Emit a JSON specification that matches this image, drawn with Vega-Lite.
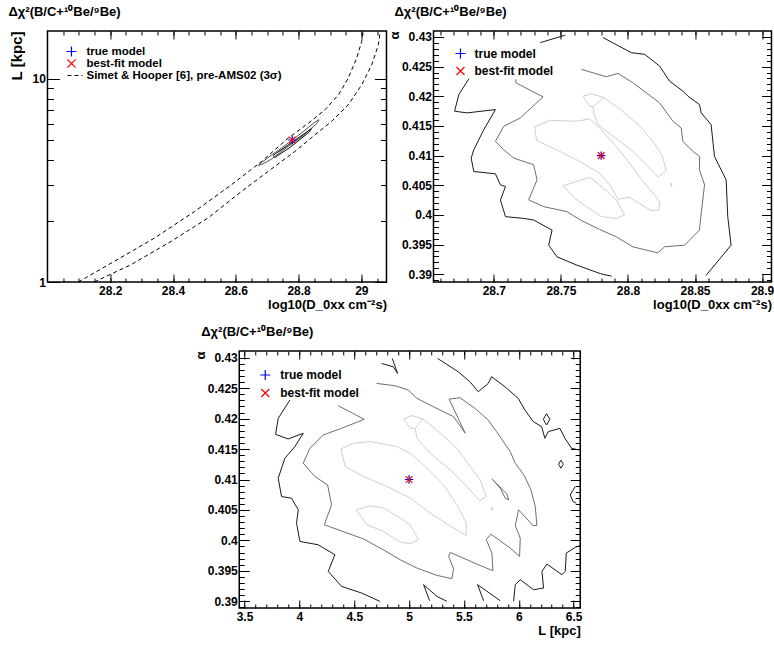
{
  "$schema": "https://vega.github.io/schema/vega-lite/v6.json",
  "background": "white",
  "padding": {"left": 7, "top": 4, "right": 0, "bottom": 0},
  "datasets": {
    "p1c": [
      {"k":"O","l":"g","i":0,"x":28.671,"y":3.75},{"k":"O","l":"g","i":1,"x":28.703,"y":4.10},{"k":"O","l":"g","i":2,"x":28.745,"y":4.56},{"k":"O","l":"g","i":3,"x":28.809,"y":5.41},{"k":"O","l":"g","i":4,"x":28.852,"y":6.12},{"k":"O","l":"g","i":5,"x":28.865,"y":6.29},{"k":"O","l":"g","i":6,"x":28.858,"y":6.03},{"k":"O","l":"g","i":7,"x":28.82,"y":5.35},{"k":"O","l":"g","i":8,"x":28.767,"y":4.65},{"k":"O","l":"g","i":9,"x":28.714,"y":4.03},{"k":"O","l":"g","i":10,"x":28.682,"y":3.78},{"k":"O","l":"g","i":11,"x":28.671,"y":3.75},
      {"k":"I","l":"b","i":0,"x":28.719,"y":4.20},{"k":"I","l":"b","i":1,"x":28.767,"y":4.73},{"k":"I","l":"b","i":2,"x":28.831,"y":5.55},{"k":"I","l":"b","i":3,"x":28.841,"y":5.68},{"k":"I","l":"b","i":4,"x":28.834,"y":5.47},{"k":"I","l":"b","i":5,"x":28.772,"y":4.59},{"k":"I","l":"b","i":6,"x":28.724,"y":4.10},{"k":"I","l":"b","i":7,"x":28.719,"y":4.20},
      {"k":"W","l":"w","i":0,"x":28.735,"y":4.35},{"k":"W","l":"w","i":1,"x":28.80,"y":5.05},{"k":"W","l":"w","i":2,"x":28.822,"y":5.32},{"k":"W","l":"w","i":3,"x":28.80,"y":5.0},{"k":"W","l":"w","i":4,"x":28.74,"y":4.4},{"k":"W","l":"w","i":5,"x":28.735,"y":4.35}
    ],
    "p1s": [
      {"k":"S1","s":"Simet & Hooper [6], pre-AMS02 (3σ)","i":0,"x":28.098,"y":1.0},{"k":"S1","s":"Simet & Hooper [6], pre-AMS02 (3σ)","i":1,"x":28.213,"y":1.264},{"k":"S1","s":"Simet & Hooper [6], pre-AMS02 (3σ)","i":2,"x":28.341,"y":1.646},{"k":"S1","s":"Simet & Hooper [6], pre-AMS02 (3σ)","i":3,"x":28.469,"y":2.226},{"k":"S1","s":"Simet & Hooper [6], pre-AMS02 (3σ)","i":4,"x":28.586,"y":3.01},{"k":"S1","s":"Simet & Hooper [6], pre-AMS02 (3σ)","i":5,"x":28.682,"y":3.92},{"k":"S1","s":"Simet & Hooper [6], pre-AMS02 (3σ)","i":6,"x":28.767,"y":5.11},{"k":"S1","s":"Simet & Hooper [6], pre-AMS02 (3σ)","i":7,"x":28.831,"y":6.05},{"k":"S1","s":"Simet & Hooper [6], pre-AMS02 (3σ)","i":8,"x":28.884,"y":7.04},{"k":"S1","s":"Simet & Hooper [6], pre-AMS02 (3σ)","i":9,"x":28.927,"y":8.34},{"k":"S1","s":"Simet & Hooper [6], pre-AMS02 (3σ)","i":10,"x":28.958,"y":10.07},{"k":"S1","s":"Simet & Hooper [6], pre-AMS02 (3σ)","i":11,"x":28.985,"y":12.64},{"k":"S1","s":"Simet & Hooper [6], pre-AMS02 (3σ)","i":12,"x":29.001,"y":15.26},{"k":"S1","s":"Simet & Hooper [6], pre-AMS02 (3σ)","i":13,"x":29.006,"y":17.09},
      {"k":"S2","s":"Simet & Hooper [6], pre-AMS02 (3σ)","i":0,"x":28.149,"y":1.0},{"k":"S2","s":"Simet & Hooper [6], pre-AMS02 (3σ)","i":1,"x":28.266,"y":1.217},{"k":"S2","s":"Simet & Hooper [6], pre-AMS02 (3σ)","i":2,"x":28.394,"y":1.585},{"k":"S2","s":"Simet & Hooper [6], pre-AMS02 (3σ)","i":3,"x":28.511,"y":2.064},{"k":"S2","s":"Simet & Hooper [6], pre-AMS02 (3σ)","i":4,"x":28.618,"y":2.792},{"k":"S2","s":"Simet & Hooper [6], pre-AMS02 (3σ)","i":5,"x":28.703,"y":3.502},{"k":"S2","s":"Simet & Hooper [6], pre-AMS02 (3σ)","i":6,"x":28.788,"y":4.39},{"k":"S2","s":"Simet & Hooper [6], pre-AMS02 (3σ)","i":7,"x":28.852,"y":5.30},{"k":"S2","s":"Simet & Hooper [6], pre-AMS02 (3σ)","i":8,"x":28.905,"y":6.17},{"k":"S2","s":"Simet & Hooper [6], pre-AMS02 (3σ)","i":9,"x":28.958,"y":7.45},{"k":"S2","s":"Simet & Hooper [6], pre-AMS02 (3σ)","i":10,"x":29.001,"y":9.34},{"k":"S2","s":"Simet & Hooper [6], pre-AMS02 (3σ)","i":11,"x":29.033,"y":11.72},{"k":"S2","s":"Simet & Hooper [6], pre-AMS02 (3σ)","i":12,"x":29.054,"y":14.70},{"k":"S2","s":"Simet & Hooper [6], pre-AMS02 (3σ)","i":13,"x":29.06,"y":17.09}
    ],
    "p2": [
      {"k":"B1","l":"b","i":0,"x":28.6814,"y":0.42295},{"k":"B1","l":"b","i":1,"x":28.6739,"y":0.4203},{"k":"B1","l":"b","i":2,"x":28.6727,"y":0.4192},{"k":"B1","l":"b","i":3,"x":28.6707,"y":0.41748},{"k":"B1","l":"b","i":4,"x":28.6801,"y":0.4172},{"k":"B1","l":"b","i":5,"x":28.7012,"y":0.41776},{"k":"B1","l":"b","i":6,"x":28.6925,"y":0.41437},{"k":"B1","l":"b","i":7,"x":28.6851,"y":0.41099},{"k":"B1","l":"b","i":8,"x":28.6831,"y":0.40958},{"k":"B1","l":"b","i":9,"x":28.6851,"y":0.40732},{"k":"B1","l":"b","i":10,"x":28.7012,"y":0.40693},{"k":"B1","l":"b","i":11,"x":28.7049,"y":0.40507},{"k":"B1","l":"b","i":12,"x":28.7087,"y":0.40478},{"k":"B1","l":"b","i":13,"x":28.7049,"y":0.40253},{"k":"B1","l":"b","i":14,"x":28.7087,"y":0.39971},{"k":"B1","l":"b","i":15,"x":28.7223,"y":0.39942},{"k":"B1","l":"b","i":16,"x":28.7297,"y":0.39914},{"k":"B1","l":"b","i":17,"x":28.7434,"y":0.39745},{"k":"B1","l":"b","i":18,"x":28.7409,"y":0.3949},{"k":"B1","l":"b","i":19,"x":28.7471,"y":0.39294},{"k":"B1","l":"b","i":20,"x":28.762,"y":0.39153},{"k":"B1","l":"b","i":21,"x":28.7794,"y":0.39011},{"k":"B1","l":"b","i":22,"x":28.7878,"y":0.38967},
      {"k":"B2","l":"b","i":0,"x":28.7347,"y":0.42904},{"k":"B2","l":"b","i":1,"x":28.7471,"y":0.42989},{"k":"B2","l":"b","i":2,"x":28.7533,"y":0.4303},
      {"k":"B3","l":"b","i":0,"x":28.7814,"y":0.42989},{"k":"B3","l":"b","i":1,"x":28.8025,"y":0.42735},{"k":"B3","l":"b","i":2,"x":28.8124,"y":0.42707},{"k":"B3","l":"b","i":3,"x":28.8236,"y":0.42509},{"k":"B3","l":"b","i":4,"x":28.831,"y":0.42256},{"k":"B3","l":"b","i":5,"x":28.841,"y":0.42086},{"k":"B3","l":"b","i":6,"x":28.8447,"y":0.42002},{"k":"B3","l":"b","i":7,"x":28.8533,"y":0.41861},{"k":"B3","l":"b","i":8,"x":28.8546,"y":0.4172},{"k":"B3","l":"b","i":9,"x":28.862,"y":0.41522},{"k":"B3","l":"b","i":10,"x":28.8645,"y":0.40986},{"k":"B3","l":"b","i":11,"x":28.8732,"y":0.40591},{"k":"B3","l":"b","i":12,"x":28.8744,"y":0.3997},{"k":"B3","l":"b","i":13,"x":28.8769,"y":0.39491},{"k":"B3","l":"b","i":14,"x":28.8583,"y":0.38983},
      {"k":"G","l":"g","i":0,"x":28.7653,"y":0.42453},{"k":"G","l":"g","i":1,"x":28.7839,"y":0.42329},{"k":"G","l":"g","i":2,"x":28.7926,"y":0.42385},{"k":"G","l":"g","i":3,"x":28.8037,"y":0.42227},{"k":"G","l":"g","i":4,"x":28.8137,"y":0.42058},{"k":"G","l":"g","i":5,"x":28.8236,"y":0.41889},{"k":"G","l":"g","i":6,"x":28.8335,"y":0.41579},{"k":"G","l":"g","i":7,"x":28.8397,"y":0.41466},{"k":"G","l":"g","i":8,"x":28.8409,"y":0.4124},{"k":"G","l":"g","i":9,"x":28.8484,"y":0.41071},{"k":"G","l":"g","i":10,"x":28.8534,"y":0.40986},
      {"k":"G","l":"g","i":11,"x":28.8533,"y":0.4076},{"k":"G","l":"g","i":12,"x":28.8571,"y":0.40507},{"k":"G","l":"g","i":13,"x":28.8558,"y":0.40253},{"k":"G","l":"g","i":14,"x":28.8546,"y":0.40027},{"k":"G","l":"g","i":15,"x":28.8533,"y":0.39745},{"k":"G","l":"g","i":16,"x":28.8422,"y":0.39491},{"k":"G","l":"g","i":17,"x":28.8273,"y":0.39463},{"k":"G","l":"g","i":18,"x":28.8223,"y":0.39361},{"k":"G","l":"g","i":19,"x":28.8037,"y":0.39463},{"k":"G","l":"g","i":20,"x":28.7913,"y":0.39632},{"k":"G","l":"g","i":21,"x":28.7789,"y":0.39756},
      {"k":"G","l":"g","i":22,"x":28.7645,"y":0.39914},{"k":"G","l":"g","i":23,"x":28.7546,"y":0.40055},{"k":"G","l":"g","i":24,"x":28.7372,"y":0.4014},{"k":"G","l":"g","i":25,"x":28.726,"y":0.40253},{"k":"G","l":"g","i":26,"x":28.7322,"y":0.40591},{"k":"G","l":"g","i":27,"x":28.7297,"y":0.40845},{"k":"G","l":"g","i":28,"x":28.7149,"y":0.40958},{"k":"G","l":"g","i":29,"x":28.7074,"y":0.41099},{"k":"G","l":"g","i":30,"x":28.7012,"y":0.4124},{"k":"G","l":"g","i":31,"x":28.7074,"y":0.41494},{"k":"G","l":"g","i":32,"x":28.7198,"y":0.41635},{"k":"G","l":"g","i":33,"x":28.7367,"y":0.4199},{"k":"G","l":"g","i":34,"x":28.7164,"y":0.42227},{"k":"G","l":"g","i":35,"x":28.7164,"y":0.42284},
      {"k":"LA","l":"w","i":0,"x":28.7665,"y":0.42002},{"k":"LA","l":"w","i":1,"x":28.7727,"y":0.42041},{"k":"LA","l":"w","i":2,"x":28.7814,"y":0.41985},{"k":"LA","l":"w","i":3,"x":28.7938,"y":0.41787},{"k":"LA","l":"w","i":4,"x":28.8087,"y":0.41505},{"k":"LA","l":"w","i":5,"x":28.8186,"y":0.4124},{"k":"LA","l":"w","i":6,"x":28.8256,"y":0.40997},{"k":"LA","l":"w","i":7,"x":28.8285,"y":0.40749},{"k":"LA","l":"w","i":8,"x":28.8226,"y":0.40636},{"k":"LA","l":"w","i":9,"x":28.8137,"y":0.40845},{"k":"LA","l":"w","i":10,"x":28.8025,"y":0.41099},{"k":"LA","l":"w","i":11,"x":28.7888,"y":0.41325},{"k":"LA","l":"w","i":12,"x":28.7777,"y":0.41522},{"k":"LA","l":"w","i":13,"x":28.7744,"y":0.4172},{"k":"LA","l":"w","i":14,"x":28.774,"y":0.41821},{"k":"LA","l":"w","i":15,"x":28.7715,"y":0.41832},{"k":"LA","l":"w","i":16,"x":28.7665,"y":0.42002},
      {"k":"LA2","l":"w","i":0,"x":28.774,"y":0.41821},{"k":"LA2","l":"w","i":1,"x":28.7814,"y":0.41973},
      {"k":"LB","l":"w","i":0,"x":28.7305,"y":0.41483},{"k":"LB","l":"w","i":1,"x":28.7417,"y":0.41595},{"k":"LB","l":"w","i":2,"x":28.7615,"y":0.41579},{"k":"LB","l":"w","i":3,"x":28.7715,"y":0.41618},{"k":"LB","l":"w","i":4,"x":28.7789,"y":0.41466},{"k":"LB","l":"w","i":5,"x":28.7901,"y":0.41184},{"k":"LB","l":"w","i":6,"x":28.8012,"y":0.40873},{"k":"LB","l":"w","i":7,"x":28.8112,"y":0.40563},{"k":"LB","l":"w","i":8,"x":28.8198,"y":0.40337},{"k":"LB","l":"w","i":9,"x":28.8236,"y":0.40224},{"k":"LB","l":"w","i":10,"x":28.8231,"y":0.40083},{"k":"LB","l":"w","i":11,"x":28.8174,"y":0.40072},{"k":"LB","l":"w","i":12,"x":28.8012,"y":0.40298},{"k":"LB","l":"w","i":13,"x":28.7926,"y":0.40264},{"k":"LB","l":"w","i":14,"x":28.7864,"y":0.40507},{"k":"LB","l":"w","i":15,"x":28.7789,"y":0.40704},{"k":"LB","l":"w","i":16,"x":28.764,"y":0.40902},{"k":"LB","l":"w","i":17,"x":28.7442,"y":0.41127},{"k":"LB","l":"w","i":18,"x":28.7318,"y":0.41257},{"k":"LB","l":"w","i":19,"x":28.7305,"y":0.41483},
      {"k":"LC","l":"w","i":0,"x":28.7516,"y":0.4049},{"k":"LC","l":"w","i":1,"x":28.7715,"y":0.40636},{"k":"LC","l":"w","i":2,"x":28.7789,"y":0.40507},{"k":"LC","l":"w","i":3,"x":28.7913,"y":0.40253},{"k":"LC","l":"w","i":4,"x":28.7975,"y":0.39999},{"k":"LC","l":"w","i":5,"x":28.7913,"y":0.39942},{"k":"LC","l":"w","i":6,"x":28.7802,"y":0.39971},{"k":"LC","l":"w","i":7,"x":28.769,"y":0.4014},{"k":"LC","l":"w","i":8,"x":28.7603,"y":0.40281},{"k":"LC","l":"w","i":9,"x":28.7516,"y":0.4049},
      {"k":"LT","l":"w","i":0,"x":28.8318,"y":0.40507},{"k":"LT","l":"w","i":1,"x":28.8323,"y":0.40537},{"k":"LT","l":"w","i":2,"x":28.8328,"y":0.40507},{"k":"LT","l":"w","i":3,"x":28.8323,"y":0.40477},{"k":"LT","l":"w","i":4,"x":28.8318,"y":0.40507}
    ],
    "p3": [
      {"k":"B1","l":"b","i":0,"x":3.9136,"y":0.42305},{"k":"B1","l":"b","i":1,"x":3.8072,"y":0.42004},{"k":"B1","l":"b","i":2,"x":3.7829,"y":0.41742},{"k":"B1","l":"b","i":3,"x":3.8984,"y":0.41666},{"k":"B1","l":"b","i":4,"x":4.0351,"y":0.41759},{"k":"B1","l":"b","i":5,"x":3.9592,"y":0.4154},{"k":"B1","l":"b","i":6,"x":3.868,"y":0.41349},{"k":"B1","l":"b","i":7,"x":3.8072,"y":0.41021},{"k":"B1","l":"b","i":8,"x":3.8376,"y":0.4072},{"k":"B1","l":"b","i":9,"x":3.9288,"y":0.40693},{"k":"B1","l":"b","i":10,"x":3.9896,"y":0.40502},{"k":"B1","l":"b","i":11,"x":3.9743,"y":0.40283},{"k":"B1","l":"b","i":12,"x":4.0047,"y":0.39983},{"k":"B1","l":"b","i":13,"x":4.1719,"y":0.39928},{"k":"B1","l":"b","i":14,"x":4.3238,"y":0.39764},{"k":"B1","l":"b","i":15,"x":4.263,"y":0.39491},{"k":"B1","l":"b","i":16,"x":4.3846,"y":0.39245},{"k":"B1","l":"b","i":17,"x":4.5669,"y":0.39136},{"k":"B1","l":"b","i":18,"x":4.734,"y":0.38999},
      {"k":"BV","l":"b","i":0,"x":4.7492,"y":0.42906},{"k":"BV","l":"b","i":1,"x":4.8555,"y":0.42851},{"k":"BV","l":"b","i":2,"x":4.895,"y":0.42742},{"k":"BV","l":"b","i":3,"x":4.8464,"y":0.42988},
      {"k":"B3","l":"b","i":0,"x":5.2596,"y":0.42988},{"k":"B3","l":"b","i":1,"x":5.448,"y":0.42769},{"k":"B3","l":"b","i":2,"x":5.5543,"y":0.42606},{"k":"B3","l":"b","i":3,"x":5.6303,"y":0.42442},{"k":"B3","l":"b","i":4,"x":5.7215,"y":0.42578},{"k":"B3","l":"b","i":5,"x":5.7519,"y":0.42688},{"k":"B3","l":"b","i":6,"x":5.8734,"y":0.42524},{"k":"B3","l":"b","i":7,"x":5.995,"y":0.42332},{"k":"B3","l":"b","i":8,"x":6.0557,"y":0.42141},{"k":"B3","l":"b","i":9,"x":6.1317,"y":0.4195},{"k":"B3","l":"b","i":10,"x":6.2076,"y":0.41868},{"k":"B3","l":"b","i":11,"x":6.238,"y":0.41677},{"k":"B3","l":"b","i":12,"x":6.2684,"y":0.41786},{"k":"B3","l":"b","i":13,"x":6.3748,"y":0.4184},{"k":"B3","l":"b","i":14,"x":6.4203,"y":0.41677},{"k":"B3","l":"b","i":15,"x":6.4811,"y":0.41513},{"k":"B3","l":"b","i":16,"x":6.548,"y":0.41485},
      {"k":"D1","l":"b","i":0,"x":6.2232,"y":0.41988},{"k":"D1","l":"b","i":1,"x":6.2532,"y":0.42081},{"k":"D1","l":"b","i":2,"x":6.2832,"y":0.41988},{"k":"D1","l":"b","i":3,"x":6.2532,"y":0.41895},{"k":"D1","l":"b","i":4,"x":6.2232,"y":0.41988},
      {"k":"D2","l":"b","i":0,"x":6.3619,"y":0.41251},{"k":"D2","l":"b","i":1,"x":6.3839,"y":0.41317},{"k":"D2","l":"b","i":2,"x":6.4059,"y":0.41251},{"k":"D2","l":"b","i":3,"x":6.3839,"y":0.41185},{"k":"D2","l":"b","i":4,"x":6.3619,"y":0.41251},
      {"k":"AR","l":"b","i":0,"x":6.5146,"y":0.40885},{"k":"AR","l":"b","i":1,"x":6.469,"y":0.40748},{"k":"AR","l":"b","i":2,"x":6.4933,"y":0.40639},{"k":"AR","l":"b","i":3,"x":6.5237,"y":0.40611},
      {"k":"P1","l":"b","i":0,"x":5.1867,"y":0.3901},{"k":"P1","l":"b","i":1,"x":5.132,"y":0.39273},{"k":"P1","l":"b","i":2,"x":5.2535,"y":0.39081},{"k":"P1","l":"b","i":3,"x":5.3447,"y":0.38999},
      {"k":"P2","l":"b","i":0,"x":5.679,"y":0.3901},{"k":"P2","l":"b","i":1,"x":5.6243,"y":0.39273},{"k":"P2","l":"b","i":2,"x":5.8309,"y":0.3901},
      {"k":"P3","l":"b","i":0,"x":5.9524,"y":0.38999},{"k":"P3","l":"b","i":1,"x":5.9676,"y":0.39273},{"k":"P3","l":"b","i":2,"x":6.0132,"y":0.39355},{"k":"P3","l":"b","i":3,"x":6.1347,"y":0.3919},{"k":"P3","l":"b","i":4,"x":6.2259,"y":0.39218},{"k":"P3","l":"b","i":5,"x":6.2107,"y":0.39491},{"k":"P3","l":"b","i":6,"x":6.2563,"y":0.39611},{"k":"P3","l":"b","i":7,"x":6.393,"y":0.39437},{"k":"P3","l":"b","i":8,"x":6.4234,"y":0.39491},{"k":"P3","l":"b","i":9,"x":6.4325,"y":0.39792},{"k":"P3","l":"b","i":10,"x":6.5146,"y":0.39885},{"k":"P3","l":"b","i":11,"x":6.56,"y":0.39918},
      {"k":"G","l":"g","i":0,"x":4.7036,"y":0.42578},{"k":"G","l":"g","i":1,"x":4.8707,"y":0.4254},{"k":"G","l":"g","i":2,"x":4.9923,"y":0.42469},{"k":"G","l":"g","i":3,"x":5.0713,"y":0.42333},{"k":"G","l":"g","i":4,"x":5.2384,"y":0.4218},{"k":"G","l":"g","i":5,"x":5.4055,"y":0.42032},{"k":"G","l":"g","i":6,"x":5.5119,"y":0.41759},{"k":"G","l":"g","i":7,"x":5.365,"y":0.4232},{"k":"G","l":"g","i":8,"x":5.4632,"y":0.42343},{"k":"G","l":"g","i":9,"x":5.6,"y":0.42168},{"k":"G","l":"g","i":10,"x":5.7215,"y":0.41977},{"k":"G","l":"g","i":11,"x":5.7974,"y":0.41786},{"k":"G","l":"g","i":12,"x":5.922,"y":0.41458},{"k":"G","l":"g","i":13,"x":5.9676,"y":0.41267},{"k":"G","l":"g","i":14,"x":6.0497,"y":0.41065},{"k":"G","l":"g","i":15,"x":6.1104,"y":0.4083},{"k":"G","l":"g","i":16,"x":6.1499,"y":0.40557},{"k":"G","l":"g","i":17,"x":6.1651,"y":0.40245},{"k":"G","l":"g","i":18,"x":6.1287,"y":0.40245},{"k":"G","l":"g","i":19,"x":5.998,"y":0.40502},{"k":"G","l":"g","i":20,"x":5.9676,"y":0.40245},{"k":"G","l":"g","i":21,"x":6.0132,"y":0.40038},{"k":"G","l":"g","i":22,"x":6.0071,"y":0.39737},{"k":"G","l":"g","i":23,"x":5.922,"y":0.39874},{"k":"G","l":"g","i":24,"x":5.7458,"y":0.40103},{"k":"G","l":"g","i":25,"x":5.7032,"y":0.4001},{"k":"G","l":"g","i":26,"x":5.7549,"y":0.39792},{"k":"G","l":"g","i":27,"x":5.764,"y":0.39502},{"k":"G","l":"g","i":28,"x":5.6182,"y":0.39611},{"k":"G","l":"g","i":29,"x":5.3751,"y":0.39803},{"k":"G","l":"g","i":30,"x":5.3599,"y":0.39737},{"k":"G","l":"g","i":31,"x":5.4055,"y":0.39535},{"k":"G","l":"g","i":32,"x":5.3903,"y":0.39371},{"k":"G","l":"g","i":33,"x":5.2535,"y":0.39426},{"k":"G","l":"g","i":34,"x":5.0712,"y":0.39546},{"k":"G","l":"g","i":35,"x":4.9193,"y":0.39682},{"k":"G","l":"g","i":36,"x":4.7644,"y":0.39846},{"k":"G","l":"g","i":37,"x":4.5821,"y":0.40026},{"k":"G","l":"g","i":38,"x":4.3542,"y":0.40174},{"k":"G","l":"g","i":39,"x":4.2266,"y":0.40256},{"k":"G","l":"g","i":40,"x":4.2934,"y":0.40584},{"k":"G","l":"g","i":41,"x":4.2569,"y":0.40912},{"k":"G","l":"g","i":42,"x":4.1415,"y":0.41048},{"k":"G","l":"g","i":43,"x":4.0351,"y":0.41267},{"k":"G","l":"g","i":44,"x":4.0959,"y":0.41513},{"k":"G","l":"g","i":45,"x":4.2174,"y":0.41731},{"k":"G","l":"g","i":46,"x":4.3846,"y":0.41841},{"k":"G","l":"g","i":47,"x":4.5912,"y":0.41988},{"k":"G","l":"g","i":48,"x":4.3542,"y":0.42212},
      {"k":"G2","l":"g","i":0,"x":5.755,"y":0.4101},{"k":"G2","l":"g","i":1,"x":5.8917,"y":0.40759},{"k":"G2","l":"g","i":2,"x":5.9069,"y":0.40666},{"k":"G2","l":"g","i":3,"x":5.8765,"y":0.40693},{"k":"G2","l":"g","i":4,"x":5.8309,"y":0.40857},{"k":"G2","l":"g","i":5,"x":5.755,"y":0.4101},
      {"k":"LT","l":"w","i":0,"x":5.7469,"y":0.40518},{"k":"LT","l":"w","i":1,"x":5.7549,"y":0.40548},{"k":"LT","l":"w","i":2,"x":5.7629,"y":0.40518},{"k":"LT","l":"w","i":3,"x":5.7549,"y":0.40488},{"k":"LT","l":"w","i":4,"x":5.7469,"y":0.40518},
      {"k":"LA","l":"w","i":0,"x":4.9498,"y":0.41994},{"k":"LA","l":"w","i":1,"x":5.0257,"y":0.42049},{"k":"LA","l":"w","i":2,"x":5.126,"y":0.41994},{"k":"LA","l":"w","i":3,"x":5.2688,"y":0.41787},{"k":"LA","l":"w","i":4,"x":5.4359,"y":0.41513},{"k":"LA","l":"w","i":5,"x":5.5575,"y":0.41213},{"k":"LA","l":"w","i":6,"x":5.6486,"y":0.40994},{"k":"LA","l":"w","i":7,"x":5.7033,"y":0.40721},{"k":"LA","l":"w","i":8,"x":5.6426,"y":0.4065},{"k":"LA","l":"w","i":9,"x":5.5271,"y":0.40885},{"k":"LA","l":"w","i":10,"x":5.3752,"y":0.41158},{"k":"LA","l":"w","i":11,"x":5.1928,"y":0.41431},{"k":"LA","l":"w","i":12,"x":5.0713,"y":0.41677},{"k":"LA","l":"w","i":13,"x":5.0561,"y":0.41841},{"k":"LA","l":"w","i":14,"x":5.0105,"y":0.41841},{"k":"LA","l":"w","i":15,"x":4.9498,"y":0.41994},
      {"k":"LA2","l":"w","i":0,"x":5.0561,"y":0.41841},{"k":"LA2","l":"w","i":1,"x":5.126,"y":0.41994},
      {"k":"LB","l":"w","i":0,"x":4.3785,"y":0.41502},{"k":"LB","l":"w","i":1,"x":4.494,"y":0.41595},{"k":"LB","l":"w","i":2,"x":4.6459,"y":0.41623},{"k":"LB","l":"w","i":3,"x":4.889,"y":0.41541},{"k":"LB","l":"w","i":4,"x":5.0105,"y":0.41431},{"k":"LB","l":"w","i":5,"x":5.1625,"y":0.41185},{"k":"LB","l":"w","i":6,"x":5.3144,"y":0.40912},{"k":"LB","l":"w","i":7,"x":5.4359,"y":0.40584},{"k":"LB","l":"w","i":8,"x":5.521,"y":0.40284},{"k":"LB","l":"w","i":9,"x":5.521,"y":0.40082},{"k":"LB","l":"w","i":10,"x":5.4055,"y":0.40202},{"k":"LB","l":"w","i":11,"x":5.1928,"y":0.40448},{"k":"LB","l":"w","i":12,"x":5.0105,"y":0.40694},{"k":"LB","l":"w","i":13,"x":4.7978,"y":0.40885},{"k":"LB","l":"w","i":14,"x":4.5851,"y":0.41049},{"k":"LB","l":"w","i":15,"x":4.418,"y":0.41213},{"k":"LB","l":"w","i":16,"x":4.3785,"y":0.41502},
      {"k":"LC","l":"w","i":0,"x":4.5183,"y":0.40502},{"k":"LC","l":"w","i":1,"x":4.6459,"y":0.40568},{"k":"LC","l":"w","i":2,"x":4.7674,"y":0.4053},{"k":"LC","l":"w","i":3,"x":4.9194,"y":0.40366},{"k":"LC","l":"w","i":4,"x":5.0105,"y":0.40256},{"k":"LC","l":"w","i":5,"x":5.0865,"y":0.40011},{"k":"LC","l":"w","i":6,"x":5.0105,"y":0.39945},{"k":"LC","l":"w","i":7,"x":4.9194,"y":0.39972},{"k":"LC","l":"w","i":8,"x":4.7674,"y":0.40147},{"k":"LC","l":"w","i":9,"x":4.6155,"y":0.40256},{"k":"LC","l":"w","i":10,"x":4.5183,"y":0.40502}
    ]
  },
  "vconcat": [
    {
      "hconcat": [
        {
          "width": 339, "height": 251,
          "title": {"text": "Δχ²(B/C+¹⁰Be/⁹Be)", "anchor": "start", "frame": "group", "dx": -39, "offset": 12},
          "resolve": {"axis": {"x": "independent", "y": "independent"}},
          "layer": [
            {"data": {"name": "p1c"}, "transform": [{"filter": "datum.l == 'w'"}],
             "mark": {"type": "line", "stroke": "#b0b0b0", "strokeWidth": 1, "clip": true},
             "encoding": {
               "x": {"field": "x", "type": "quantitative", "scale": {"domain": [28.0, 29.08], "nice": false, "zero": false},
                     "axis": {"orient": "top", "values": [28.05,28.1,28.15,28.2,28.25,28.3,28.35,28.4,28.45,28.5,28.55,28.6,28.65,28.7,28.75,28.8,28.85,28.9,28.95,29,29.05], "offset": -4, "tickSize": 4, "labels": false, "title": null}},
               "y": {"field": "y", "type": "quantitative", "scale": {"type": "log", "domain": [1, 17.2], "nice": false},
                     "axis": {"orient": "right", "values": [2,3,4,5,6,7,8,9], "offset": -6, "tickSize": 6, "labels": false, "title": null}},
               "detail": {"field": "k"}, "order": {"field": "i", "type": "quantitative"}}},
            {"data": {"name": "p1c"}, "transform": [{"filter": "datum.l == 'g'"}],
             "mark": {"type": "line", "stroke": "#555555", "strokeWidth": 1, "clip": true},
             "encoding": {
               "x": {"field": "x", "type": "quantitative",
                     "axis": {"orient": "bottom", "values": [28.05,28.1,28.15,28.2,28.25,28.3,28.35,28.4,28.45,28.5,28.55,28.6,28.65,28.7,28.75,28.8,28.85,28.9,28.95,29,29.05], "offset": -4, "tickSize": 4, "labels": false, "title": null}},
               "y": {"field": "y", "type": "quantitative",
                     "axis": {"orient": "left", "values": [2,3,4,5,6,7,8,9], "offset": -6, "tickSize": 6, "labels": false, "title": null}},
               "detail": {"field": "k"}, "order": {"field": "i", "type": "quantitative"}}},
            {"data": {"name": "p1c"}, "transform": [{"filter": "datum.l == 'b'"}],
             "mark": {"type": "line", "stroke": "#111111", "strokeWidth": 1, "clip": true},
             "encoding": {
               "x": {"field": "x", "type": "quantitative",
                     "axis": {"orient": "bottom", "values": [28.2,28.4,28.6,28.8,29], "format": ".1~f", "offset": -8, "tickSize": 8, "labelPadding": 3, "title": "log10(D_0xx cm⁻²s)", "titleAnchor": "end", "titlePadding": 2}},
               "y": {"field": "y", "type": "quantitative",
                     "axis": {"orient": "left", "values": [1,10], "format": "~g", "offset": -12, "tickSize": 12, "labelPadding": 2, "title": "L [kpc]", "titleAnchor": "end", "titlePadding": 8, "titleFontSize": 15}},
               "detail": {"field": "k"}, "order": {"field": "i", "type": "quantitative"}}},
            {"data": {"name": "p1s"},
             "mark": {"type": "line", "strokeWidth": 1, "clip": true},
             "encoding": {
               "x": {"field": "x", "type": "quantitative",
                     "axis": {"orient": "top", "values": [28.2,28.4,28.6,28.8,29], "offset": -8, "tickSize": 8, "labels": false, "title": null}},
               "y": {"field": "y", "type": "quantitative",
                     "axis": {"orient": "right", "values": [1,10], "offset": -12, "tickSize": 12, "labels": false, "title": null}},
               "color": {"field": "s", "type": "nominal", "scale": {"domain": ["true model", "best-fit model", "Simet & Hooper [6], pre-AMS02 (3σ)"], "range": ["#0000ff", "#ff0000", "#000000"]},
                         "legend": {"orient": "none", "legendX": 18, "legendY": 15, "title": null, "rowPadding": 0, "clipHeight": 11, "labelOffset": 9, "labelFontSize": 11.5}},
               "strokeDash": {"field": "s", "type": "nominal", "scale": {"domain": ["true model", "best-fit model", "Simet & Hooper [6], pre-AMS02 (3σ)"], "range": [[1,0],[1,0],[4,3]]},
                         "legend": {"orient": "none", "legendX": 18, "legendY": 15, "title": null, "rowPadding": 0, "clipHeight": 11, "labelOffset": 9, "labelFontSize": 11.5}},
               "detail": {"field": "k"}, "order": {"field": "i", "type": "quantitative"}}},
            {"data": {"values": [{"s": "true model", "x": 28.78, "y": 5.0}, {"s": "best-fit model", "x": 28.78, "y": 5.0}]},
             "mark": {"type": "point", "filled": false, "size": 70, "strokeWidth": 1.2, "opacity": 1},
             "encoding": {
               "x": {"field": "x", "type": "quantitative", "axis": null},
               "y": {"field": "y", "type": "quantitative", "axis": null},
               "color": {"field": "s", "type": "nominal", "legend": {"orient": "none", "legendX": 18, "legendY": 15, "title": null, "rowPadding": 0, "clipHeight": 11, "labelOffset": 9, "labelFontSize": 11.5}},
               "shape": {"field": "s", "type": "nominal", "scale": {"domain": ["true model", "best-fit model", "Simet & Hooper [6], pre-AMS02 (3σ)"], "range": ["M-1,0L1,0M0,-1L0,1", "M-0.8,-0.8L0.8,0.8M-0.8,0.8L0.8,-0.8", "M-2.2,0L2.2,0"]},
                         "legend": {"orient": "none", "legendX": 18, "legendY": 15, "title": null, "rowPadding": 0, "clipHeight": 11, "labelOffset": 9, "labelFontSize": 11.5}}}}
          ]
        },
        {
          "width": 338, "height": 251,
          "title": {"text": "Δχ²(B/C+¹⁰Be/⁹Be)", "anchor": "start", "frame": "group", "dx": -39, "offset": 12},
          "data": {"name": "p2"},
          "resolve": {"axis": {"x": "independent", "y": "independent"}},
          "layer": [
            {"transform": [{"filter": "datum.l == 'w'"}],
             "mark": {"type": "line", "stroke": "#cfcfcf", "strokeWidth": 1, "clip": true},
             "encoding": {
               "x": {"field": "x", "type": "quantitative", "scale": {"domain": [28.655, 28.907], "nice": false, "zero": false},
                     "axis": {"orient": "top", "values": [28.7,28.75,28.8,28.85,28.9], "offset": -8, "tickSize": 8, "labels": false, "title": null}},
               "y": {"field": "y", "type": "quantitative", "scale": {"domain": [0.3887, 0.431], "nice": false, "zero": false},
                     "axis": {"orient": "right", "values": [0.39,0.395,0.4,0.405,0.41,0.415,0.42,0.425,0.43], "offset": -10, "tickSize": 10, "labels": false, "title": null}},
               "detail": {"field": "k"}, "order": {"field": "i", "type": "quantitative"}}},
            {"transform": [{"filter": "datum.l == 'g'"}],
             "mark": {"type": "line", "stroke": "#6e6e6e", "strokeWidth": 1, "clip": true},
             "encoding": {
               "x": {"field": "x", "type": "quantitative",
                     "axis": {"orient": "bottom", "values": [28.66,28.67,28.68,28.69,28.7,28.71,28.72,28.73,28.74,28.75,28.76,28.77,28.78,28.79,28.8,28.81,28.82,28.83,28.84,28.85,28.86,28.87,28.88,28.89,28.9], "offset": -4, "tickSize": 4, "labels": false, "title": null}},
               "y": {"field": "y", "type": "quantitative",
                     "axis": {"orient": "left", "values": [0.389,0.39,0.391,0.392,0.393,0.394,0.395,0.396,0.397,0.398,0.399,0.4,0.401,0.402,0.403,0.404,0.405,0.406,0.407,0.408,0.409,0.41,0.411,0.412,0.413,0.414,0.415,0.416,0.417,0.418,0.419,0.42,0.421,0.422,0.423,0.424,0.425,0.426,0.427,0.428,0.429,0.43], "offset": -5, "tickSize": 5, "labels": false, "title": null}},
               "detail": {"field": "k"}, "order": {"field": "i", "type": "quantitative"}}},
            {"transform": [{"filter": "datum.l == 'b'"}],
             "mark": {"type": "line", "stroke": "#1a1a1a", "strokeWidth": 1, "clip": true},
             "encoding": {
               "x": {"field": "x", "type": "quantitative",
                     "axis": {"orient": "bottom", "values": [28.7,28.75,28.8,28.85,28.9], "format": ".2~f", "offset": -8, "tickSize": 8, "labelPadding": 3, "title": "log10(D_0xx cm⁻²s)", "titleAnchor": "end", "titlePadding": 2}},
               "y": {"field": "y", "type": "quantitative",
                     "axis": {"orient": "left", "values": [0.39,0.395,0.4,0.405,0.41,0.415,0.42,0.425,0.43], "format": ".3~f", "offset": -10, "tickSize": 10, "labelPadding": 2, "title": "α", "titleAnchor": "end", "titlePadding": 0}},
               "detail": {"field": "k"}, "order": {"field": "i", "type": "quantitative"}}},
            {"data": {"values": [{"s": "true model", "x": 28.78, "y": 0.41}]},
             "mark": {"type": "point", "filled": false, "size": 70, "strokeWidth": 1.2, "opacity": 1},
             "encoding": {
               "x": {"field": "x", "type": "quantitative",
                     "axis": {"orient": "top", "values": [28.66,28.67,28.68,28.69,28.7,28.71,28.72,28.73,28.74,28.75,28.76,28.77,28.78,28.79,28.8,28.81,28.82,28.83,28.84,28.85,28.86,28.87,28.88,28.89,28.9], "offset": -4, "tickSize": 4, "labels": false, "title": null}},
               "y": {"field": "y", "type": "quantitative",
                     "axis": {"orient": "right", "values": [0.389,0.39,0.391,0.392,0.393,0.394,0.395,0.396,0.397,0.398,0.399,0.4,0.401,0.402,0.403,0.404,0.405,0.406,0.407,0.408,0.409,0.41,0.411,0.412,0.413,0.414,0.415,0.416,0.417,0.418,0.419,0.42,0.421,0.422,0.423,0.424,0.425,0.426,0.427,0.428,0.429,0.43], "offset": -5, "tickSize": 5, "labels": false, "title": null}},
               "color": {"field": "s", "type": "nominal", "scale": {"domain": ["true model", "best-fit model"], "range": ["#0000ff", "#ff0000"]},
                         "legend": {"orient": "none", "legendX": 21, "legendY": 16.5, "title": null, "rowPadding": 5.5, "clipHeight": 12, "labelOffset": 8}},
               "shape": {"field": "s", "type": "nominal", "scale": {"domain": ["true model", "best-fit model"], "range": ["M-1,0L1,0M0,-1L0,1", "M-0.8,-0.8L0.8,0.8M-0.8,0.8L0.8,-0.8"]},
                         "legend": {"orient": "none", "legendX": 21, "legendY": 16.5, "title": null, "rowPadding": 5.5, "clipHeight": 12, "labelOffset": 8}}}},
            {"data": {"values": [{"s": "best-fit model", "x": 28.78, "y": 0.41}]},
             "mark": {"type": "point", "filled": false, "size": 70, "strokeWidth": 1.2, "opacity": 1},
             "encoding": {
               "x": {"field": "x", "type": "quantitative", "axis": null},
               "y": {"field": "y", "type": "quantitative", "axis": null},
               "color": {"field": "s", "type": "nominal", "legend": {"orient": "none", "legendX": 21, "legendY": 16.5, "title": null, "rowPadding": 5.5, "clipHeight": 12, "labelOffset": 8}},
               "shape": {"field": "s", "type": "nominal", "legend": {"orient": "none", "legendX": 21, "legendY": 16.5, "title": null, "rowPadding": 5.5, "clipHeight": 12, "labelOffset": 8}}}}
          ]
        }
      ],
      "spacing": 47,
      "bounds": "flush",
      "resolve": {"scale": {"color": "independent", "shape": "independent", "strokeDash": "independent"}, "legend": {"color": "independent", "shape": "independent", "strokeDash": "independent"}}
    },
    {
      "width": 341, "height": 257,
      "title": {"text": "Δχ²(B/C+¹⁰Be/⁹Be)", "anchor": "start", "frame": "group", "dx": -38, "offset": 12},
      "data": {"name": "p3"},
      "resolve": {"axis": {"x": "independent", "y": "independent"}},
      "layer": [
        {"transform": [{"filter": "datum.l == 'w'"}],
         "mark": {"type": "line", "stroke": "#cfcfcf", "strokeWidth": 1, "clip": true},
         "encoding": {
           "x": {"field": "x", "type": "quantitative", "scale": {"domain": [3.452, 6.56], "nice": false, "zero": false},
                 "axis": {"orient": "top", "values": [3.5,4,4.5,5,5.5,6,6.5], "offset": -8, "tickSize": 8, "labels": false, "title": null}},
           "y": {"field": "y", "type": "quantitative", "scale": {"domain": [0.3889, 0.4311], "nice": false, "zero": false},
                 "axis": {"orient": "right", "values": [0.39,0.395,0.4,0.405,0.41,0.415,0.42,0.425,0.43], "offset": -10, "tickSize": 10, "labels": false, "title": null}},
           "detail": {"field": "k"}, "order": {"field": "i", "type": "quantitative"}}},
        {"transform": [{"filter": "datum.l == 'g'"}],
         "mark": {"type": "line", "stroke": "#6e6e6e", "strokeWidth": 1, "clip": true},
         "encoding": {
           "x": {"field": "x", "type": "quantitative",
                 "axis": {"orient": "bottom", "values": [3.5,3.6,3.7,3.8,3.9,4,4.1,4.2,4.3,4.4,4.5,4.6,4.7,4.8,4.9,5,5.1,5.2,5.3,5.4,5.5,5.6,5.7,5.8,5.9,6,6.1,6.2,6.3,6.4,6.5], "offset": -4, "tickSize": 4, "labels": false, "title": null}},
           "y": {"field": "y", "type": "quantitative",
                 "axis": {"orient": "left", "values": [0.389,0.39,0.391,0.392,0.393,0.394,0.395,0.396,0.397,0.398,0.399,0.4,0.401,0.402,0.403,0.404,0.405,0.406,0.407,0.408,0.409,0.41,0.411,0.412,0.413,0.414,0.415,0.416,0.417,0.418,0.419,0.42,0.421,0.422,0.423,0.424,0.425,0.426,0.427,0.428,0.429,0.43], "offset": -5, "tickSize": 5, "labels": false, "title": null}},
           "detail": {"field": "k"}, "order": {"field": "i", "type": "quantitative"}}},
        {"transform": [{"filter": "datum.l == 'b'"}],
         "mark": {"type": "line", "stroke": "#1a1a1a", "strokeWidth": 1, "clip": true},
         "encoding": {
           "x": {"field": "x", "type": "quantitative",
                 "axis": {"orient": "bottom", "values": [3.5,4,4.5,5,5.5,6,6.5], "format": ".1~f", "offset": -8, "tickSize": 8, "labelPadding": 3, "title": "L [kpc]", "titleAnchor": "end", "titlePadding": 2}},
           "y": {"field": "y", "type": "quantitative",
                 "axis": {"orient": "left", "values": [0.39,0.395,0.4,0.405,0.41,0.415,0.42,0.425,0.43], "format": ".3~f", "offset": -10, "tickSize": 10, "labelPadding": 2, "title": "α", "titleAnchor": "end", "titlePadding": 0}},
           "detail": {"field": "k"}, "order": {"field": "i", "type": "quantitative"}}},
        {"data": {"values": [{"s": "true model", "x": 5.0, "y": 0.41}]},
         "mark": {"type": "point", "filled": false, "size": 70, "strokeWidth": 1.2, "opacity": 1},
         "encoding": {
           "x": {"field": "x", "type": "quantitative",
                 "axis": {"orient": "top", "values": [3.5,3.6,3.7,3.8,3.9,4,4.1,4.2,4.3,4.4,4.5,4.6,4.7,4.8,4.9,5,5.1,5.2,5.3,5.4,5.5,5.6,5.7,5.8,5.9,6,6.1,6.2,6.3,6.4,6.5], "offset": -4, "tickSize": 4, "labels": false, "title": null}},
           "y": {"field": "y", "type": "quantitative",
                 "axis": {"orient": "right", "values": [0.389,0.39,0.391,0.392,0.393,0.394,0.395,0.396,0.397,0.398,0.399,0.4,0.401,0.402,0.403,0.404,0.405,0.406,0.407,0.408,0.409,0.41,0.411,0.412,0.413,0.414,0.415,0.416,0.417,0.418,0.419,0.42,0.421,0.422,0.423,0.424,0.425,0.426,0.427,0.428,0.429,0.43], "offset": -5, "tickSize": 5, "labels": false, "title": null}},
           "color": {"field": "s", "type": "nominal", "scale": {"domain": ["true model", "best-fit model"], "range": ["#0000ff", "#ff0000"]},
                     "legend": {"orient": "none", "legendX": 20, "legendY": 18, "title": null, "rowPadding": 6, "clipHeight": 12, "labelOffset": 9}},
           "shape": {"field": "s", "type": "nominal", "scale": {"domain": ["true model", "best-fit model"], "range": ["M-1,0L1,0M0,-1L0,1", "M-0.8,-0.8L0.8,0.8M-0.8,0.8L0.8,-0.8"]},
                     "legend": {"orient": "none", "legendX": 20, "legendY": 18, "title": null, "rowPadding": 6, "clipHeight": 12, "labelOffset": 9}}}},
        {"data": {"values": [{"s": "best-fit model", "x": 5.0, "y": 0.41}]},
         "mark": {"type": "point", "filled": false, "size": 70, "strokeWidth": 1.2, "opacity": 1},
         "encoding": {
           "x": {"field": "x", "type": "quantitative", "axis": null},
           "y": {"field": "y", "type": "quantitative", "axis": null},
           "color": {"field": "s", "type": "nominal", "legend": {"orient": "none", "legendX": 20, "legendY": 18, "title": null, "rowPadding": 6, "clipHeight": 12, "labelOffset": 9}},
           "shape": {"field": "s", "type": "nominal", "legend": {"orient": "none", "legendX": 20, "legendY": 18, "title": null, "rowPadding": 6, "clipHeight": 12, "labelOffset": 9}}}}
      ]
    }
  ],
  "spacing": 12,
  "center": true,
  "resolve": {"scale": {"color": "independent", "shape": "independent", "strokeDash": "independent"}, "legend": {"color": "independent", "shape": "independent", "strokeDash": "independent"}},
  "config": {
    "view": {"stroke": "#000000", "strokeWidth": 1.5},
    "axis": {"labelFont": "Liberation Sans", "labelFontWeight": "bold", "labelFontSize": 12, "labelColor": "#000000", "tickColor": "#000000", "tickWidth": 1, "titleFont": "Liberation Sans", "titleFontWeight": "bold", "titleFontSize": 13, "titleColor": "#000000", "grid": false, "domain": false, "labelFlush": false, "labelOverlap": false, "labelBound": false, "ticks": true},
    "legend": {"labelFont": "Liberation Sans", "labelFontWeight": "bold", "labelFontSize": 12, "labelColor": "#000000", "labelLimit": 0, "symbolSize": 100, "symbolStrokeWidth": 1.2, "symbolOpacity": 1, "padding": 0},
    "title": {"font": "Liberation Sans", "fontWeight": "bold", "fontSize": 13, "color": "#000000"}
  }
}
